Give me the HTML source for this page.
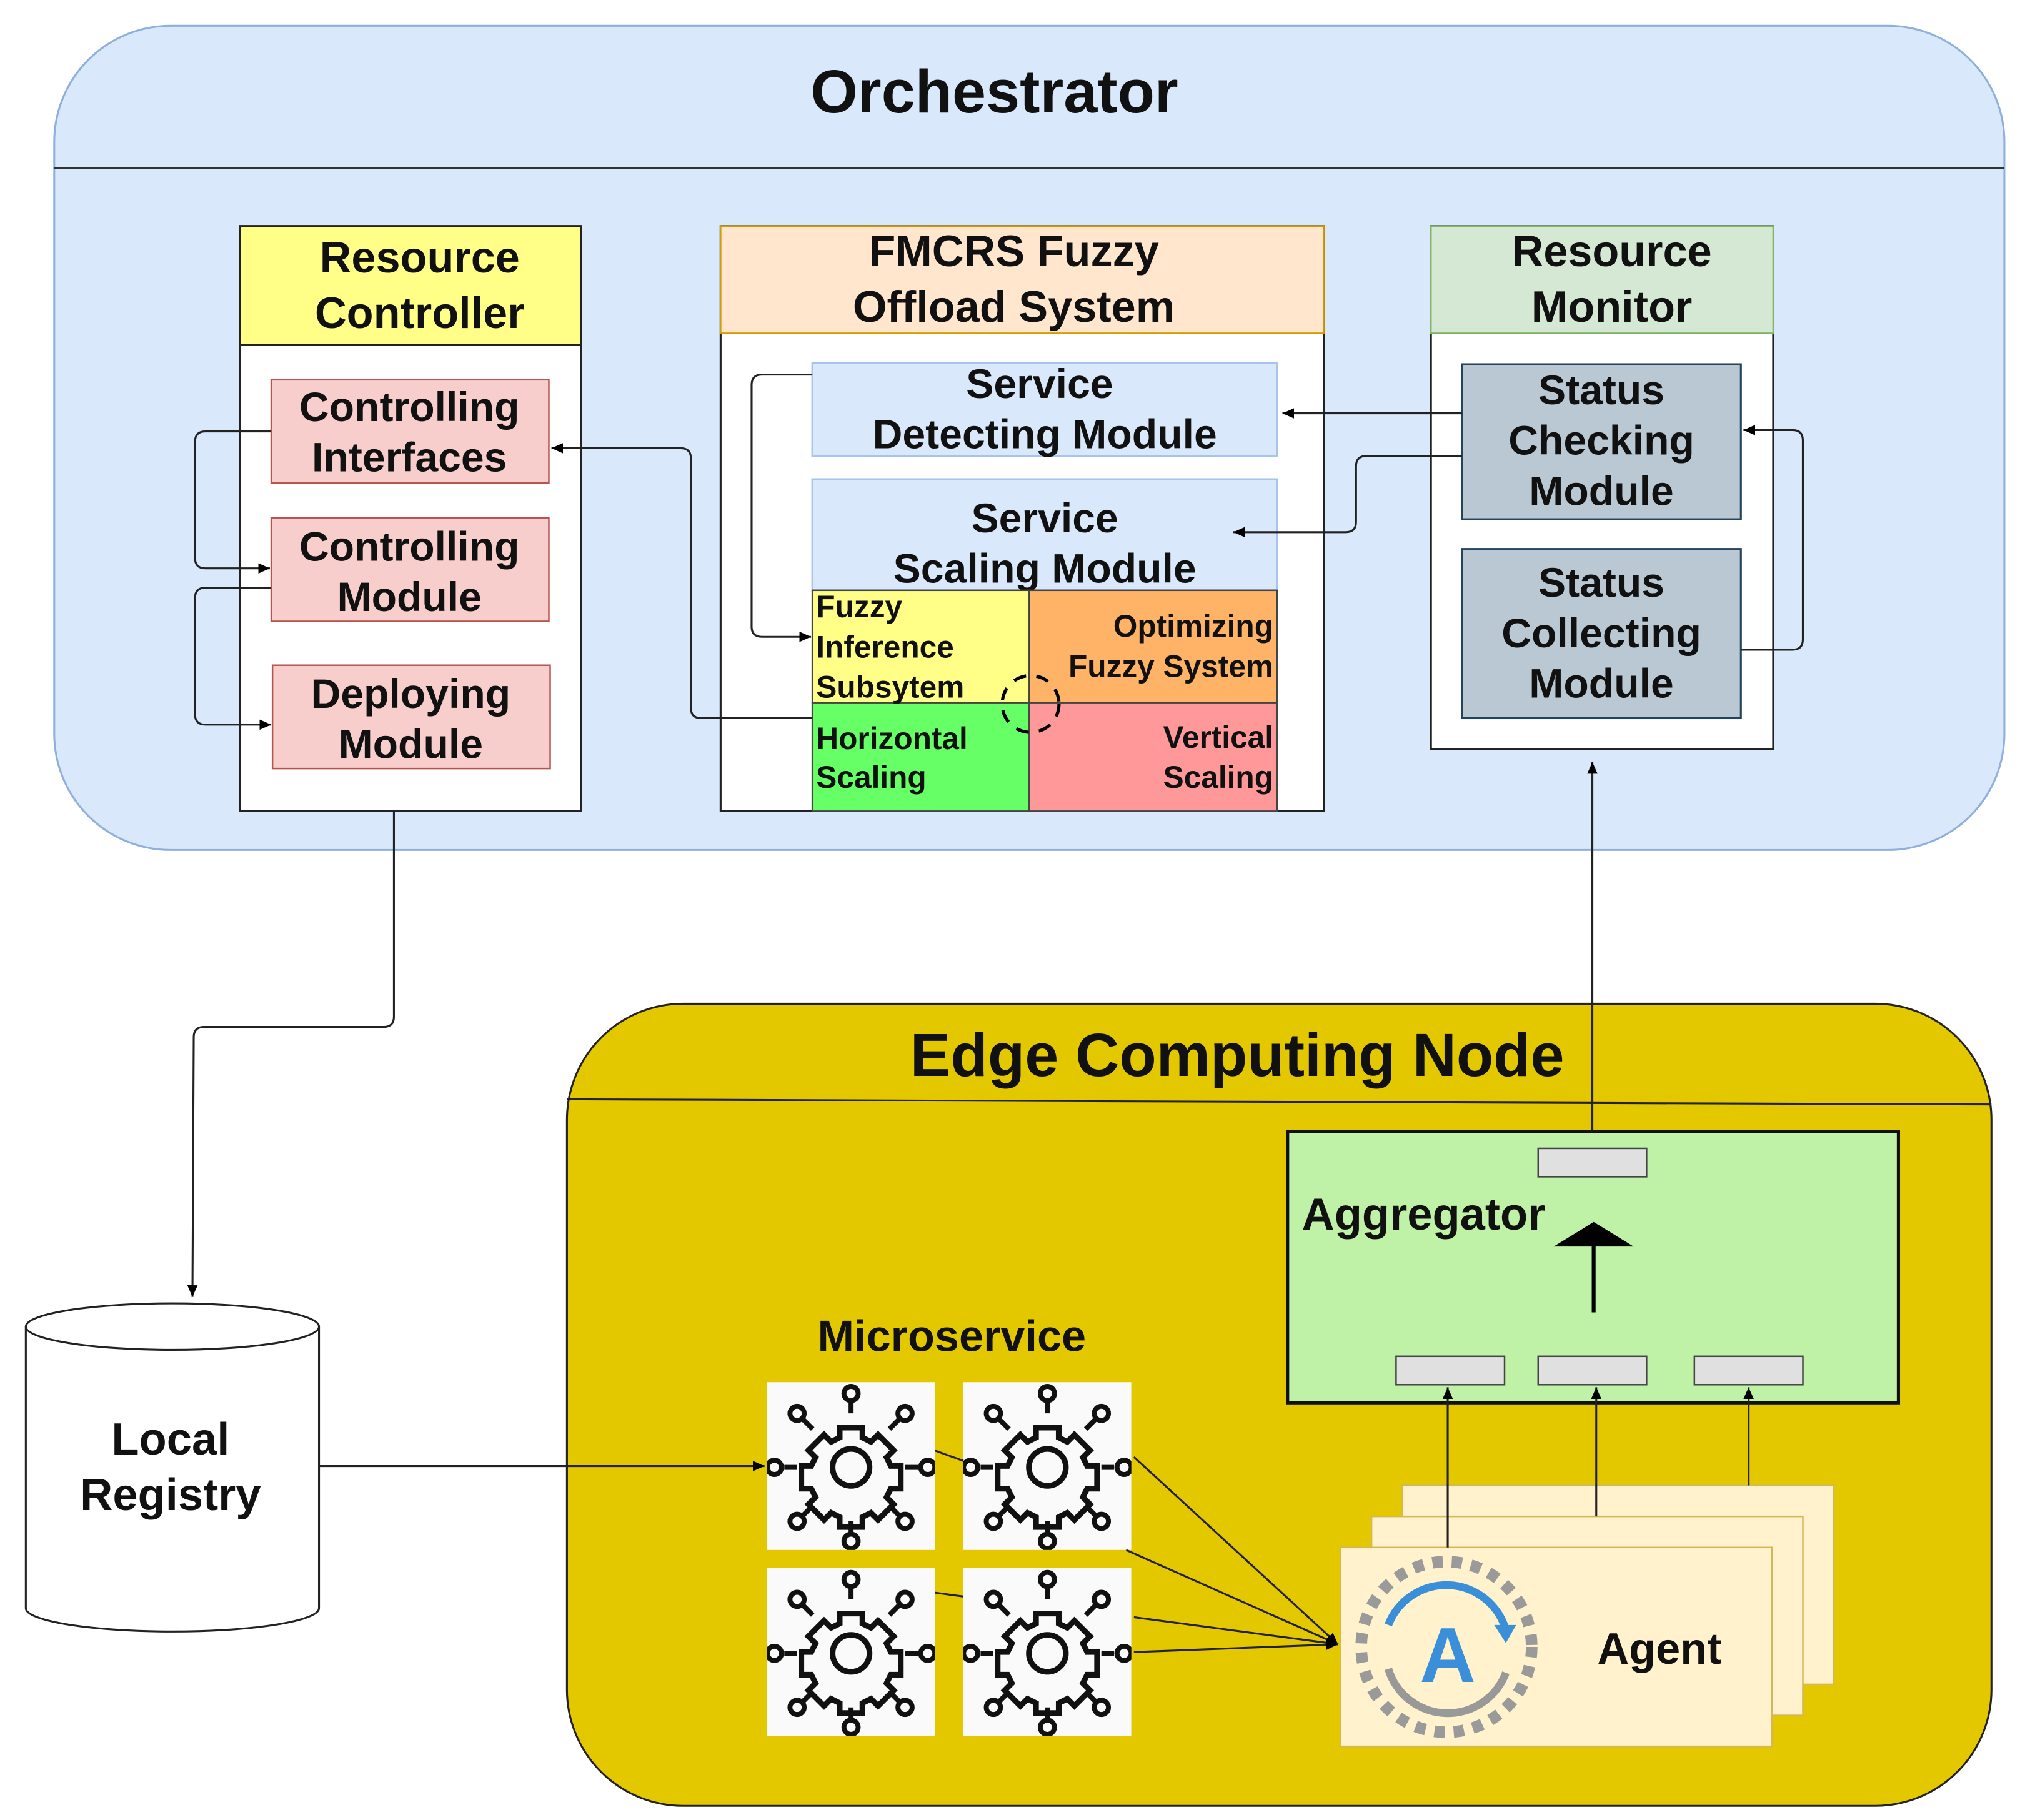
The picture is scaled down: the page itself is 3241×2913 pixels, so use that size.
<!DOCTYPE html>
<html><head><meta charset="utf-8"><style>
html,body{margin:0;padding:0;background:#fff}
svg{display:block}
text{font-family:"Liberation Sans",Arial,sans-serif;font-weight:bold;fill:#111}
</style></head><body>
<svg width="3241" height="2913" viewBox="0 0 1568 1409" preserveAspectRatio="none" xmlns="http://www.w3.org/2000/svg">
<defs>
<marker id="ar" markerWidth="10" markerHeight="10" refX="9" refY="5" orient="auto" markerUnits="userSpaceOnUse">
<path d="M0,1 L9,5 L0,9 Z" fill="#000"/></marker>
<symbol id="gear" viewBox="0 0 130 130">
<rect width="130" height="130" fill="#fafafa"/>
<g fill="none" stroke="#111" stroke-width="4" transform="translate(65 66) scale(1.1) translate(-65 -66)">
<circle cx="65" cy="66" r="13"/>
<path d="M57,38 h16 v7 l6,3 l5,-5 l11,11 l-5,5 l3,6 h7 v16 h-7 l-3,6 l5,5 l-11,11 l-5,-5 l-6,3 v7 h-16 v-7 l-6,-3 l-5,5 l-11,-11 l5,-5 l-3,-6 h-7 v-16 h7 l3,-6 l-5,-5 l11,-11 l5,5 l6,-3 Z"/>
<g stroke-width="3.5">
<line x1="65" y1="28" x2="65" y2="20"/><circle cx="65" cy="14" r="5"/>
<line x1="65" y1="104" x2="65" y2="112"/><circle cx="65" cy="118" r="5"/>
<line x1="27" y1="66" x2="18" y2="66"/><circle cx="11" cy="66" r="5"/>
<line x1="103" y1="66" x2="112" y2="66"/><circle cx="119" cy="66" r="5"/>
<line x1="38" y1="39" x2="31" y2="32"/><circle cx="27" cy="28" r="5"/>
<line x1="92" y1="39" x2="99" y2="32"/><circle cx="103" cy="28" r="5"/>
<line x1="38" y1="93" x2="31" y2="100"/><circle cx="27" cy="104" r="5"/>
<line x1="92" y1="93" x2="99" y2="100"/><circle cx="103" cy="104" r="5"/>
</g></g></symbol>
</defs>

<rect x="42" y="20" width="1510" height="638" rx="90" fill="#dae8fc" stroke="#8fb0dc" stroke-width="1.5"/>
<line x1="42" y1="130" x2="1552" y2="130" stroke="#333" stroke-width="1.5"/>
<text x="770" y="87" font-size="47" text-anchor="middle">Orchestrator</text>

<rect x="186" y="175" width="264" height="453" fill="#fff" stroke="#222" stroke-width="1.5"/>
<rect x="186" y="175" width="264" height="92" fill="#ffff88" stroke="#222" stroke-width="1.5"/>
<text x="325" y="211" font-size="34" text-anchor="middle">Resource</text>
<text x="325" y="254" font-size="34" text-anchor="middle">Controller</text>
<rect x="210" y="294" width="215" height="80" fill="#f8cecc" stroke="#b85450" stroke-width="1.2"/>
<text x="317" y="326" font-size="32" text-anchor="middle">Controlling</text>
<text x="317" y="365" font-size="32" text-anchor="middle">Interfaces</text>
<rect x="210" y="401" width="215" height="80" fill="#f8cecc" stroke="#b85450" stroke-width="1.2"/>
<text x="317" y="434" font-size="32" text-anchor="middle">Controlling</text>
<text x="317" y="473" font-size="32" text-anchor="middle">Module</text>
<rect x="211" y="515" width="215" height="80" fill="#f8cecc" stroke="#b85450" stroke-width="1.2"/>
<text x="318" y="548" font-size="32" text-anchor="middle">Deploying</text>
<text x="318" y="587" font-size="32" text-anchor="middle">Module</text>

<rect x="558" y="175" width="467" height="453" fill="#fff" stroke="#222" stroke-width="1.5"/>
<rect x="558" y="175" width="467" height="83" fill="#ffe6cc" stroke="#d79b00" stroke-width="1.2"/>
<text x="785" y="206" font-size="34" text-anchor="middle">FMCRS Fuzzy</text>
<text x="785" y="249" font-size="34" text-anchor="middle">Offload System</text>
<rect x="629" y="281" width="360" height="72" fill="#dae8fc" stroke="#a9c4eb" stroke-width="1.5"/>
<text x="805" y="308" font-size="32" text-anchor="middle">Service</text>
<text x="809" y="347" font-size="32" text-anchor="middle">Detecting Module</text>
<rect x="629" y="371" width="360" height="86" fill="#dae8fc" stroke="#a9c4eb" stroke-width="1.5"/>
<text x="809" y="412" font-size="32" text-anchor="middle">Service</text>
<text x="809" y="451" font-size="32" text-anchor="middle">Scaling Module</text>
<rect x="629" y="457" width="168" height="87" fill="#ffff88" stroke="#444" stroke-width="1.2"/>
<rect x="797" y="457" width="192" height="87" fill="#ffb366" stroke="#444" stroke-width="1.2"/>
<rect x="629" y="544" width="168" height="84" fill="#66ff66" stroke="#444" stroke-width="1.2"/>
<rect x="797" y="544" width="192" height="84" fill="#ff9999" stroke="#444" stroke-width="1.2"/>
<text x="632" y="478" font-size="24">Fuzzy</text>
<text x="632" y="509" font-size="24">Inference</text>
<text x="632" y="540" font-size="24">Subsytem</text>
<text x="986" y="493" font-size="24" text-anchor="end">Optimizing</text>
<text x="986" y="524" font-size="24" text-anchor="end">Fuzzy System</text>
<text x="632" y="580" font-size="24">Horizontal</text>
<text x="632" y="610" font-size="24">Scaling</text>
<text x="986" y="579" font-size="24" text-anchor="end">Vertical</text>
<text x="986" y="610" font-size="24" text-anchor="end">Scaling</text>
<circle cx="798" cy="545" r="22" fill="none" stroke="#000" stroke-width="2.5" stroke-dasharray="10 8"/>

<rect x="1108" y="175" width="265" height="405" fill="#fff" stroke="#222" stroke-width="1.5"/>
<rect x="1108" y="175" width="265" height="83" fill="#d5e8d4" stroke="#82b366" stroke-width="1.2"/>
<text x="1248" y="206" font-size="34" text-anchor="middle">Resource</text>
<text x="1248" y="249" font-size="34" text-anchor="middle">Monitor</text>
<rect x="1132" y="282" width="216" height="120" fill="#bac8d3" stroke="#23445d" stroke-width="1.5"/>
<text x="1240" y="313" font-size="32" text-anchor="middle">Status</text>
<text x="1240" y="352" font-size="32" text-anchor="middle">Checking</text>
<text x="1240" y="391" font-size="32" text-anchor="middle">Module</text>
<rect x="1132" y="425" width="216" height="131" fill="#bac8d3" stroke="#23445d" stroke-width="1.5"/>
<text x="1240" y="462" font-size="32" text-anchor="middle">Status</text>
<text x="1240" y="501" font-size="32" text-anchor="middle">Collecting</text>
<text x="1240" y="540" font-size="32" text-anchor="middle">Module</text>

<g fill="none" stroke="#222" stroke-width="1.5">
<path d="M1132,320 H993" marker-end="url(#ar)"/>
<path d="M1132,353 H1058 Q1050,353 1050,361 V404 Q1050,412 1042,412 H955" marker-end="url(#ar)"/>
<path d="M1348,503 H1388 Q1396,503 1396,495 V341 Q1396,333 1388,333 H1350" marker-end="url(#ar)"/>
<path d="M629,290 H590 Q582,290 582,298 V485 Q582,493 590,493 H628" marker-end="url(#ar)"/>
<path d="M629,556 H543 Q535,556 535,548 V355 Q535,347 527,347 H427" marker-end="url(#ar)"/>
<path d="M210,334 H159 Q151,334 151,342 V432 Q151,440 159,440 H209" marker-end="url(#ar)"/>
<path d="M210,455 H159 Q151,455 151,463 V553 Q151,561 159,561 H210" marker-end="url(#ar)"/>
<path d="M305,628 V787 Q305,795 297,795 H158 Q150,795 150,803 L149,1004" marker-end="url(#ar)"/>
</g>

<rect x="439" y="777" width="1103" height="621" rx="90" fill="#e3c800" stroke="#222" stroke-width="1.5"/>
<line x1="439" y1="851" x2="1542" y2="855" stroke="#222" stroke-width="1.5"/>
<text x="958" y="833" font-size="47" text-anchor="middle">Edge Computing Node</text>

<rect x="997" y="876" width="473" height="210" fill="#bff2a6" stroke="#111" stroke-width="2.5"/>
<text x="1008" y="952" font-size="35">Aggregator</text>
<rect x="1191" y="889" width="84" height="22" fill="#e0e0e0" stroke="#444" stroke-width="1.2"/>
<rect x="1081" y="1050" width="84" height="22" fill="#e0e0e0" stroke="#444" stroke-width="1.2"/>
<rect x="1191" y="1050" width="84" height="22" fill="#e0e0e0" stroke="#444" stroke-width="1.2"/>
<rect x="1312" y="1050" width="84" height="22" fill="#e0e0e0" stroke="#444" stroke-width="1.2"/>
<line x1="1234" y1="1016" x2="1234" y2="960" stroke="#000" stroke-width="3"/>
<path d="M1203,965 L1234,946 L1265,965 Z" fill="#000"/>
<path d="M1233,876 V590" stroke="#222" stroke-width="1.5" fill="none" marker-end="url(#ar)"/>

<rect x="1086" y="1150" width="334" height="154" fill="#fff2cc" stroke="#d6b656" stroke-width="1.2"/>
<rect x="1062" y="1174" width="334" height="154" fill="#fff2cc" stroke="#d6b656" stroke-width="1.2"/>
<rect x="1038" y="1198" width="334" height="154" fill="#fff2cc" stroke="#d6b656" stroke-width="1.2"/>
<g fill="none" stroke="#222" stroke-width="1.5">
<path d="M1121,1198 V1074" marker-end="url(#ar)"/>
<path d="M1236,1174 V1074" marker-end="url(#ar)"/>
<path d="M1354,1150 V1074" marker-end="url(#ar)"/>
</g>
<circle cx="1120" cy="1275" r="66" fill="none" stroke="#9a9a9a" stroke-width="9" stroke-dasharray="8 7"/>
<path d="M1075,1258 A48,48 0 0 1 1166,1262" fill="none" stroke="#3a8fd8" stroke-width="6"/>
<path d="M1157,1258 L1174,1258 L1166,1272 Z" fill="#3a8fd8"/>
<path d="M1166,1295 A48,48 0 0 1 1075,1292" fill="none" stroke="#999" stroke-width="6"/>
<text x="1121" y="1302" font-size="60" text-anchor="middle" style="fill:#3a8fd8">A</text>
<text x="1285" y="1288" font-size="34" text-anchor="middle">Agent</text>

<text x="737" y="1046" font-size="34" text-anchor="middle">Microservice</text>
<use href="#gear" x="594" y="1070" width="130" height="130"/>
<use href="#gear" x="746" y="1070" width="130" height="130"/>
<use href="#gear" x="594" y="1214" width="130" height="130"/>
<use href="#gear" x="746" y="1214" width="130" height="130"/>
<g stroke="#222" stroke-width="1.5" fill="none">
<line x1="724" y1="1123" x2="746" y2="1131"/>
<line x1="724" y1="1233" x2="746" y2="1236"/>
<path d="M878,1128 L1036,1273" marker-end="url(#ar)"/>
<path d="M872,1200 L1036,1273" marker-end="url(#ar)"/>
<path d="M878,1252 L1036,1273" marker-end="url(#ar)"/>
<path d="M878,1279 L1036,1273" marker-end="url(#ar)"/>
<path d="M247,1135 H592" marker-end="url(#ar)"/>
</g>

<path d="M20,1027 V1245 A113,18 0 0 0 247,1245 V1027" fill="#fff" stroke="#222" stroke-width="1.5"/>
<ellipse cx="133.5" cy="1027" rx="113.5" ry="18" fill="#fff" stroke="#222" stroke-width="1.5"/>
<text x="132" y="1126" font-size="35" text-anchor="middle">Local</text>
<text x="132" y="1169" font-size="35" text-anchor="middle">Registry</text>
</svg>
</body></html>
